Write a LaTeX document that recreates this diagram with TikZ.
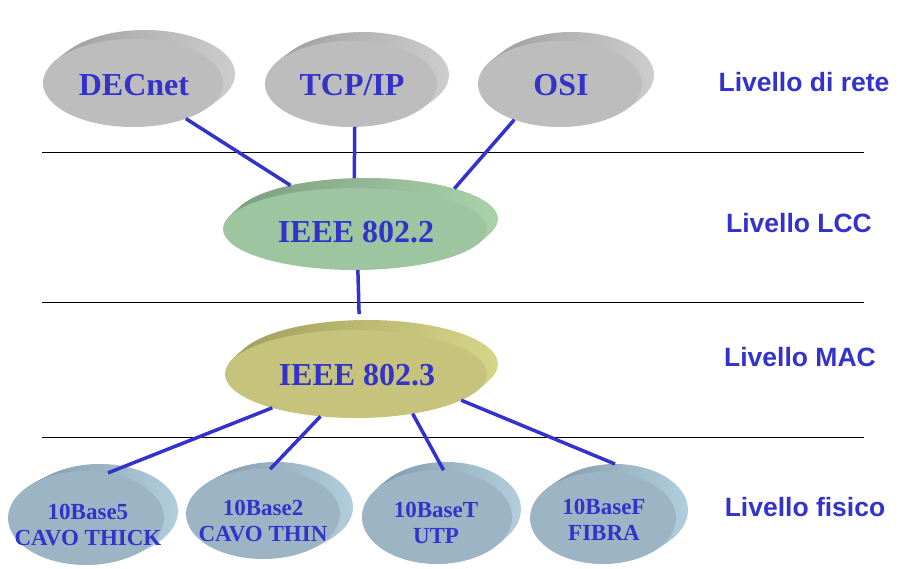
\documentclass[tikz,border=0pt]{standalone}
\usepackage{fontspec}
\setmainfont{Liberation Serif}
\newfontfamily\sansf{Liberation Sans}
\usetikzlibrary{shapes.geometric}
\definecolor{txtblue}{HTML}{3333CC}
\definecolor{grayF}{HTML}{BDBDBD}
\definecolor{grayD}{HTML}{9E9E9E}
\definecolor{grayL}{HTML}{CDCDCD}
\definecolor{greenF}{HTML}{9DC59F}
\definecolor{greenD}{HTML}{7D9D7F}
\definecolor{greenL}{HTML}{AAD2AA}
\definecolor{yelF}{HTML}{C6C47C}
\definecolor{yelD}{HTML}{A29E5E}
\definecolor{yelL}{HTML}{D6D688}
\definecolor{blueF}{HTML}{9DB4C4}
\definecolor{blueD}{HTML}{8098A8}
\definecolor{blueL}{HTML}{B2CEDC}
\tikzset{
  face/.style={ellipse, inner sep=0pt, outer sep=0pt},
  disklabel/.style={text=txtblue, font=\bfseries\fontsize{32}{38}\selectfont},
  smalllabel/.style={text=txtblue, font=\bfseries\fontsize{23}{26.5}\selectfont, align=center},
  levellabel/.style={text=txtblue, font=\sansf\bfseries\fontsize{26.5}{30}\selectfont},
  link/.style={draw=txtblue, line width=3.5pt},
  layerrule/.style={draw=black, line width=0.9pt},
}
% #1 name, #2 x, #3 y, #4 rx, #5 ry, #6 dx, #7 dy, #8 colour prefix
\newcommand\mydisk[8]{%
  \foreach \k in {1,...,12}{%
    \path[left color=#8D, right color=#8L] ({#2+#6*\k/12},{#3+#7*\k/12}) ellipse ({#4} and {#5});
  }
  \node[face, minimum width={2*#4pt}, minimum height={2*#5pt}] (#1b) at ({#2+#6},{#3+#7}) {};
  \node[face, fill=#8F, minimum width={2*#4pt}, minimum height={2*#5pt}] (#1) at (#2,#3) {};
}
\begin{document}
\begin{tikzpicture}[x=1pt,y=-1pt]
\useasboundingbox (0,0) rectangle (900,569);
% layer separators
\draw[layerrule] (42,152) -- (864,152);
\draw[layerrule] (42,302) -- (864,302);
\draw[layerrule] (42,437) -- (864,437);
% disks
\mydisk{dec}{133}{83}{90}{44}{12}{-9}{gray}
\mydisk{tcp}{351}{84}{86}{43}{12}{-9}{gray}
\mydisk{osi}{560}{84}{82}{43}{12}{-9}{gray}
\mydisk{llc}{355}{229}{132}{41}{11}{-10}{green}
\mydisk{mac}{356}{374}{131}{44}{11}{-10}{yel}
\mydisk{bfive}{86}{518}{78}{47}{14}{-7}{blue}
\mydisk{btwo}{263}{514}{77}{45}{13}{-7}{blue}
\mydisk{btee}{437}{517}{75}{47}{9}{-8}{blue}
\mydisk{beff}{603}{518}{73}{46}{12}{-8}{blue}
% disk texts
\node[disklabel] (dect) at (134,85) {DECnet};
\node[disklabel] (tcpt) at (352,85) {TCP/IP};
\node[disklabel] (osit) at (561,85) {OSI};
\node[disklabel] (llct) at (356,232) {IEEE 802.2};
\node[disklabel] (mact) at (357,375) {IEEE 802.3};
\node[smalllabel] (bfivet) at (88,525) {10Base5\\CAVO THICK};
\node[smalllabel] (btwot) at (263,521) {10Base2\\CAVO THIN};
\node[smalllabel] (bteet) at (436,523) {10BaseT\\UTP};
\node[smalllabel] (befft) at (604,520) {10BaseF\\FIBRA};
% level labels
\node[levellabel] (l1) at (804,82) {Livello di rete};
\node[levellabel] (l2) at (799,223) {Livello LCC};
\node[levellabel] (l3) at (800,357) {Livello MAC};
\node[levellabel] (l4) at (805,507) {Livello fisico};
% connectors
\draw[link] (dec.-34) -- (llcb.156);
\draw[link] (tcp.-85) -- (llcb.106);
\draw[link] (osi.-142) -- (llcb.19);
\draw[link, shorten >=6pt] (llc.-86) -- (macb.100);
\draw[link] (mac.-158) -- (bfive.64);
\draw[link] (mac.-130) -- (btwo.81);
\draw[link] (mac.-35) -- (btee.82);
\draw[link] (mac.-14) -- (beffb.90);
\end{tikzpicture}
\end{document}
